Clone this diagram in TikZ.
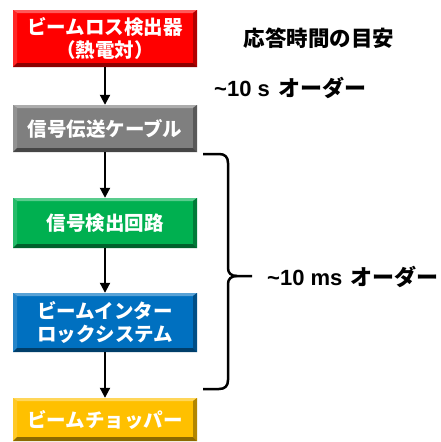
\documentclass[tikz,border=0pt]{standalone}
\usepackage{fontspec}
\setmainfont{Noto Sans CJK JP}
\newfontfamily\latfont{Liberation Sans}
\usetikzlibrary{arrows.meta,calc}
\tikzset{
  bev/.style={draw=none, fill=#1, text=white, align=center,
    font=\bfseries\fontsize{19.5}{23}\selectfont,
    minimum width=184pt, inner sep=0pt,
    path picture={
      \coordinate (pNW) at (path picture bounding box.north west);
      \coordinate (pNE) at (path picture bounding box.north east);
      \coordinate (pSW) at (path picture bounding box.south west);
      \coordinate (pSE) at (path picture bounding box.south east);
      \fill[#1!65!white] (pNW) -- (pNE) -- ([shift={(-4pt,-3pt)}]pNE) -- ([shift={(4pt,-3pt)}]pNW) -- cycle;
      \fill[#1!85!white] (pNW) -- ([shift={(4pt,-3pt)}]pNW) -- ([shift={(4pt,4pt)}]pSW) -- (pSW) -- cycle;
      \fill[#1!70!black] (pNE) -- ([shift={(-4pt,-3pt)}]pNE) -- ([shift={(-4pt,4pt)}]pSE) -- (pSE) -- cycle;
      \fill[#1!55!black] (pSW) -- ([shift={(4pt,4pt)}]pSW) -- ([shift={(-4pt,4pt)}]pSE) -- (pSE) -- cycle;
    }},
  arr/.style={line width=2pt, -{Triangle[width=10pt,length=10pt]}},
  lbl/.style={font=\bfseries\fontsize{22}{26}\selectfont, inner sep=0pt},
}
\definecolor{cred}{HTML}{FF0000}
\definecolor{cgray}{HTML}{7F7F7F}
\definecolor{cgreen}{HTML}{00B050}
\definecolor{cblue}{HTML}{0070C0}
\definecolor{cyellow}{HTML}{FFC000}
\begin{document}
\begin{tikzpicture}[x=1pt,y=-1pt]
\useasboundingbox (0,0) rectangle (440,442);
\node[bev=cred, minimum height=57pt] (red) at (105,38.5) {ビームロス検出器\\（熱電対）};
\node[bev=cgray, minimum height=47pt] (gray) at (105,128.5) {信号伝送ケーブル};
\node[bev=cgreen, minimum height=50pt] (green) at (105,223) {信号検出回路};
\node[bev=cblue, minimum height=59pt] (blue) at (105,322.5) {ビームインター\\ロックシステム};
\node[bev=cyellow, minimum height=43pt] (yellow) at (105,419.5) {ビームチョッパー};
\draw[arr] (red) -- (gray);
\draw[arr] (gray) -- (green);
\draw[arr] (green) -- (blue);
\draw[arr] (blue) -- (yellow);
\node[lbl, font=\bfseries\fontsize{21.5}{24}\selectfont] (title) at (319,38) {応答時間の目安};
\node[lbl, anchor=west] (t1) at (214,88) {{\latfont\bfseries \textasciitilde10 s}\hspace{9pt}オーダー};
\node[lbl, anchor=west] (t2) at (267,277) {{\latfont\bfseries \textasciitilde10 ms}\hspace{8pt}オーダー};
\draw[line width=2.5pt, line join=round]
  (203,154) -- (219,154) .. controls (225,154) and (228,157) .. (228,163)
  -- (228,268) .. controls (228,273) and (231,276) .. (237,276) -- (252,276);
\draw[line width=2.5pt, line join=round]
  (237,276) .. controls (231,276) and (228,279) .. (228,284)
  -- (228,380) .. controls (228,386) and (225,389) .. (219,389) -- (203,389);
\end{tikzpicture}
\end{document}
